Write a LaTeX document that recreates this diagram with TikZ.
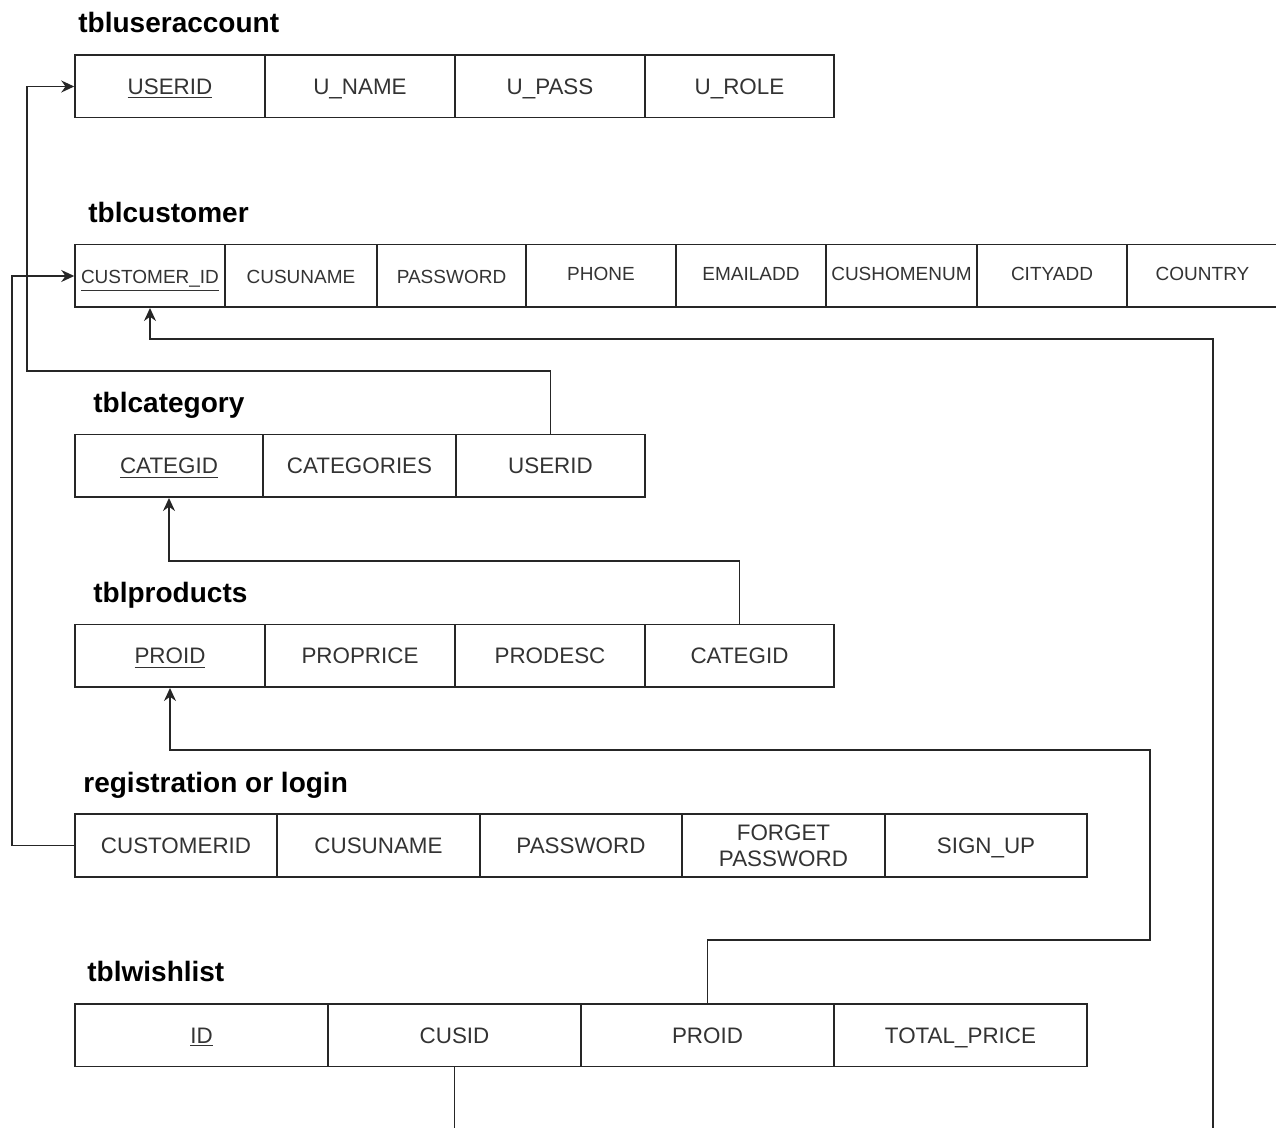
\documentclass[tikz,border=0pt]{standalone}
\usepackage{fontspec}
\setmainfont{Liberation Sans}
\usetikzlibrary{arrows.meta}
\definecolor{txt}{HTML}{333333}
\newcommand\ulk[1]{\smash{\rlap{\underline{\phantom{#1}}}}#1}
\newcommand\cst{\rule[-3pt]{0pt}{14pt}}
\newcommand\sst{\rule[-3pt]{0pt}{13.8pt}}
\newcommand\hst{\rule[-3pt]{0pt}{10.8pt}}
\newcommand\tcell[6][]{\node[cellbox, minimum width={0.5pt*(#4-#3)}, #1] (#2) at ({(#3+#4)/2},#5) {#6};}
\begin{document}
\begin{tikzpicture}[x=0.5pt,y=-0.5pt,
  cellbox/.style={draw=black!85, line width=0.75pt, inner sep=0pt, minimum height=31.25pt, text=txt, font=\fontsize{11.2pt}{13pt}\selectfont, align=center},
  smallcell/.style={font=\fontsize{9.5pt}{11pt}\selectfont},
  title/.style={anchor=base west, inner sep=0pt, font=\fontsize{14pt}{16pt}\selectfont\bfseries, text=black},
  conn/.style={draw=black!85, line width=0.75pt},
  arr/.style={conn, -{Stealth[length=6.5pt,width=6pt]}}]
\useasboundingbox (0,0) rectangle (1276,1128);
% tbluseraccount
\node[title] (t1) at (78,33) {tbluseraccount};
\tcell{ua1}{75}{265}{86.5}{\cst\ulk{USERID}}
\tcell{ua2}{265}{455}{86.5}{\cst U\_NAME}
\tcell{ua3}{455}{645}{86.5}{\cst U\_PASS}
\tcell{ua4}{645}{834}{86.5}{\cst U\_ROLE}
% tblcustomer
\node[title] (t2) at (88,223) {tblcustomer};
\tcell[smallcell]{cu1}{75}{225}{276}{\sst\ulk{CUSTOMER\_ID}}
\tcell[smallcell]{cu2}{225}{377}{276}{\sst CUSUNAME}
\tcell[smallcell]{cu3}{377}{526}{276}{\sst PASSWORD}
\tcell[smallcell]{cu4}{526}{676}{276}{\hst PHONE}
\tcell[smallcell]{cu5}{676}{826}{276}{\hst EMAILADD}
\tcell[smallcell]{cu6}{826}{977}{276}{\hst CUSHOMENUM}
\tcell[smallcell]{cu7}{977}{1127}{276}{\hst CITYADD}
\tcell[smallcell]{cu8}{1127}{1278}{276}{\hst COUNTRY}
% tblcategory
\node[title] (t3) at (93,413) {tblcategory};
\tcell{cat1}{75}{263}{466}{\cst\ulk{CATEGID}}
\tcell{cat2}{263}{456}{466}{\cst CATEGORIES}
\tcell{cat3}{456}{645}{466}{\cst USERID}
% tblproducts
\node[title] (t4) at (93,603) {tblproducts};
\tcell{pr1}{75}{265}{656}{\cst\ulk{PROID}}
\tcell{pr2}{265}{455}{656}{\cst PROPRICE}
\tcell{pr3}{455}{645}{656}{\cst PRODESC}
\tcell{pr4}{645}{834}{656}{\cst CATEGID}
% registration or login
\node[title] (t5) at (83,792) {registration or login};
\tcell{rg1}{75}{277}{845.5}{\cst CUSTOMERID}
\tcell{rg2}{277}{480}{845.5}{\cst CUSUNAME}
\tcell{rg3}{480}{682}{845.5}{\cst PASSWORD}
\tcell{rg4}{682}{885}{845.5}{\rule[-2pt]{0pt}{12pt}FORGET\\PASSWORD\rule[-2pt]{0pt}{12pt}}
\tcell{rg5}{885}{1087}{845.5}{\cst SIGN\_UP}
% tblwishlist
\node[title] (t6) at (87,981) {tblwishlist};
\tcell{wl1}{75}{328}{1035}{\cst\ulk{ID}}
\tcell{wl2}{328}{581}{1035}{\cst CUSID}
\tcell{wl3}{581}{834}{1035}{\cst PROID}
\tcell{wl4}{834}{1087}{1035}{\cst TOTAL\_PRICE}
% junction points
\coordinate (j1) at (27,371);
\coordinate (j2) at (12,845.5);
\coordinate (j3) at (1213,1140);
\coordinate (k3) at (150,339);
\coordinate (k4) at (169,561);
\coordinate (k5a) at (1150,940);
\coordinate (k5b) at (170,750);
\coordinate (k6) at (454.5,1140);
% connectors
\draw[arr] (cat3.north) |- (j1) |- (ua1.west);
\draw[arr] (rg1.west) -- (j2) |- (cu1.west);
\draw[arr] (j3) |- (k3) -- (cu1.south);
\draw[arr] (pr4.north) |- (k4) -- (cat1.south);
\draw[arr] (wl3.north) |- (k5a) |- (k5b) -- (pr1.south);
\draw[conn] (wl2.south) -- (k6);
\end{tikzpicture}
\end{document}
